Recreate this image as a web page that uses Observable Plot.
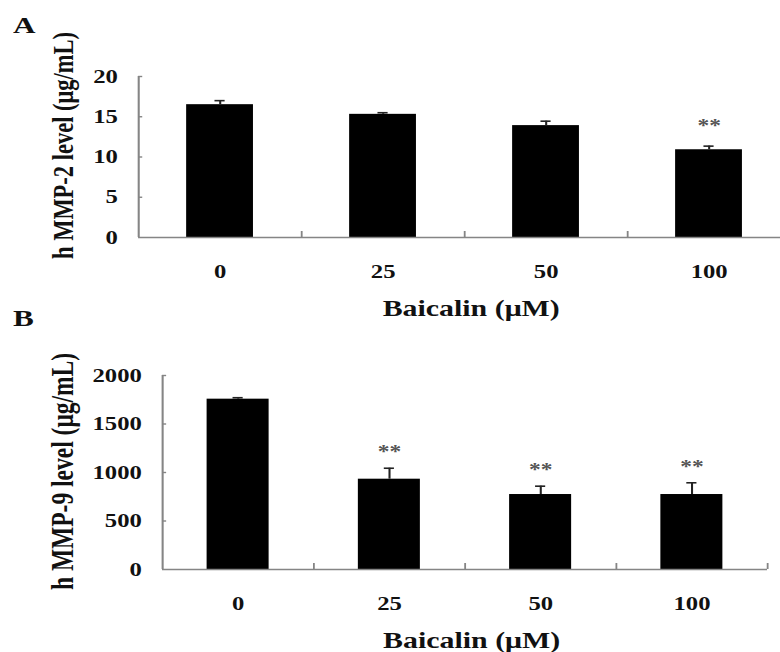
<!DOCTYPE html>
<html><head><meta charset="utf-8">
<script src="https://cdn.jsdelivr.net/npm/d3@7"></script>
<script src="https://cdn.jsdelivr.net/npm/@observablehq/plot@0.6"></script>
<style>
html,body{margin:0;padding:0;background:#fff;overflow:hidden;width:780px;height:652px}
#stage{position:absolute;left:0;top:0;width:600px;height:652px;transform:scaleX(1.3);transform-origin:0 0;font-family:"Liberation Serif","Times New Roman",serif;}
.panel{position:absolute;left:0}
.plabel{position:absolute;left:10px;font-weight:bold;font-size:24px;line-height:24px;color:#111}
</style></head><body>
<div id="stage">
  <div class="plabel" style="top:12.9px">A</div>
  <div id="pa" class="panel" style="top:0"></div>
  <div class="plabel" style="top:305.9px">B</div>
  <div id="pb" class="panel" style="top:326px"></div>
</div>
<script>
const doses = ["0", "25", "50", "100"];
const mmp2Mean = [16.5, 15.3, 13.9, 10.9];
const mmp2Err = [0.5, 0.2, 0.55, 0.45];
const mmp2Sig = ["", "", "", "**"];
const mmp9Mean = [1756, 931, 773, 773];
const mmp9Err = [15, 113, 86, 121];
const mmp9Sig = ["", "**", "**", "**"];
const mmp2Ticks = [0, 5, 10, 15, 20];
const mmp9Ticks = [0, 500, 1000, 1500, 2000];
const xTitle = "Baicalin (μM)";
const mmp2Title = "h MMP-2 level (μg/mL)";
const mmp9Title = "h MMP-9 level (μg/mL)";

function panel({means, errs, sig, yTicks, yLabel, marginLeft, xEnd, marginTop, marginBottom, labelDy, labelSize, starDy}) {
  const rows = doses.map((d, i) => ({dose: d, i, v: means[i], e: errs[i], s: sig[i]}));
  const W = 600, H = 326;
  const yMax = yTicks[yTicks.length - 1];
  const n = doses.length;
  const innerH = H - marginTop - marginBottom;
  const yUnitPx = innerH / yMax;
  const xUnitPx = (xEnd - marginLeft) / n;
  const tickUp = 6 / yUnitPx;
  const capHalf = 3.9 / xUnitPx;
  const yTickLen = 3.2 / xUnitPx;
  const axisColor = "#858585";
  return Plot.plot({
    width: W, height: H, marginLeft, marginRight: 0, marginTop, marginBottom,
    x: {domain: [0, n], range: [marginLeft, xEnd], axis: null},
    y: {domain: [0, yMax], axis: null},
    style: {fontFamily: "'Liberation Serif', 'Times New Roman', serif", fontSize: "19px", fontWeight: "bold", color: "#111", background: "transparent", overflow: "visible"},
    marks: [
      Plot.rectY(rows, {x1: d => d.i + 0.295, x2: d => d.i + 0.705, y1: 0, y2: "v", fill: "#000"}),
      Plot.ruleX(rows, {x: d => d.i + 0.5, y1: "v", y2: d => d.v + d.e, stroke: "#222", strokeWidth: 1.6}),
      Plot.ruleY(rows, {y: d => d.v + d.e, x1: d => d.i + 0.5 - capHalf, x2: d => d.i + 0.5 + capHalf, stroke: "#222", strokeWidth: 1.6}),
      Plot.ruleX([0], {y1: 0, y2: yMax, stroke: axisColor, strokeWidth: 1.6}),
      Plot.ruleY([0], {x1: 0, x2: n, stroke: axisColor, strokeWidth: 1.6}),
      Plot.ruleY(yTicks.slice(1), {x1: 0, x2: yTickLen, stroke: axisColor, strokeWidth: 1.4}),
      Plot.ruleX(d3.range(1, n + 1), {y1: 0, y2: tickUp, stroke: axisColor, strokeWidth: 1.4}),
      Plot.axisY({ticks: yTicks, tickSize: 0, tickPadding: 16, label: null, tickFormat: d => String(d)}),
      Plot.axisX({ticks: rows.map(d => d.i + 0.5), tickFormat: t => doses[Math.floor(t)], tickSize: 0, tickPadding: 27, label: null}),
      Plot.text(rows.filter(d => d.s), {x: d => d.i + 0.5, y: d => d.v + d.e, text: "s", dy: starDy, fontSize: 18, fill: "#555", lineAnchor: "middle"}),
      Plot.text([yLabel], {frameAnchor: "left", textAnchor: "middle", rotate: -90, dx: 48.5 - marginLeft, dy: labelDy, fontSize: labelSize, text: d => d, lineAnchor: "middle"}),
      Plot.text([xTitle], {x: () => n / 2, frameAnchor: "bottom", dx: 5, dy: 71, fontSize: 23, text: d => d, lineAnchor: "middle"})
    ]
  });
}

document.getElementById("pa").append(panel({
  means: mmp2Mean, errs: mmp2Err, sig: mmp2Sig, yTicks: mmp2Ticks, yLabel: mmp2Title,
  marginLeft: 106.2, xEnd: 607.7, marginTop: 76, marginBottom: 89, labelDy: -11.5, labelSize: 22.5, starDy: -20
}));
document.getElementById("pb").append(panel({
  means: mmp9Mean, errs: mmp9Err, sig: mmp9Sig, yTicks: mmp9Ticks, yLabel: mmp9Title,
  marginLeft: 124.6, xEnd: 590, marginTop: 49, marginBottom: 83, labelDy: -1, labelSize: 23.5, starDy: -16
}));
</script>
</body></html>
